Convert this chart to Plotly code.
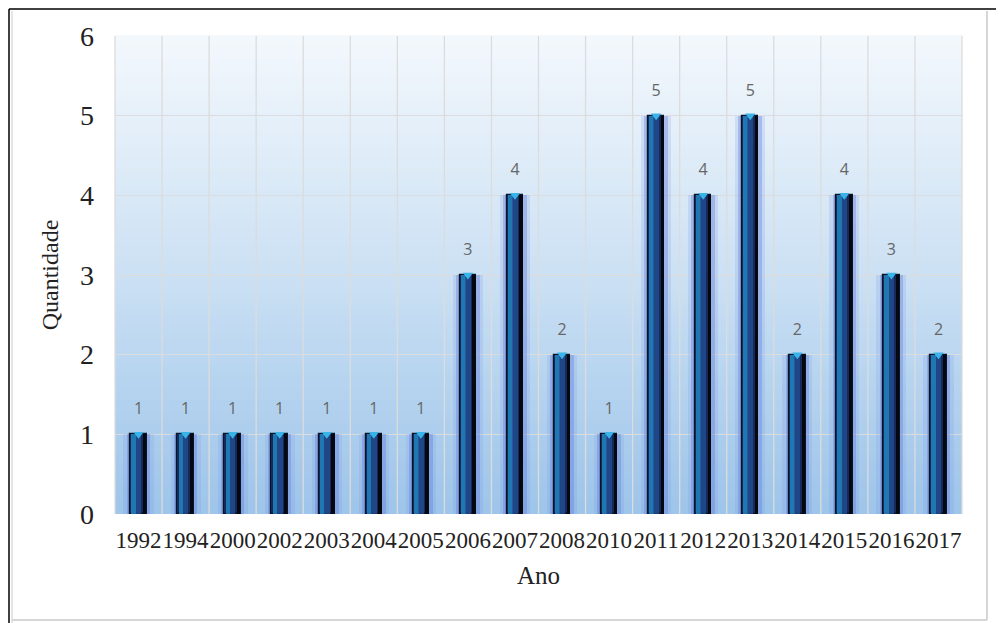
import plotly.graph_objects as go

anos = ["1992", "1994", "2000", "2002", "2003", "2004", "2005", "2006", "2007",
        "2008", "2010", "2011", "2012", "2013", "2014", "2015", "2016", "2017"]
quantidade = [1, 1, 1, 1, 1, 1, 1, 3, 4, 2, 1, 5, 4, 5, 2, 4, 3, 2]

W, H = 1004, 623
OFF = 8  # page body margin
L, R, T, B = 115, 962, 36, 514  # plot area in screen pixels
pw, ph = R - L, B - T

def px(x):
    return (x - L) / pw

def py(y):
    return (B - y) / ph

fig = go.Figure()

# glow halos
fig.add_trace(go.Bar(x=anos, y=quantidade, width=0.64, marker=dict(color="rgba(120,150,230,0.20)", line=dict(width=0)),
                     hoverinfo="skip", showlegend=False))
fig.add_trace(go.Bar(x=anos, y=quantidade, width=0.5, marker=dict(color="rgba(85,115,215,0.32)", line=dict(width=0)),
                     hoverinfo="skip", showlegend=False))
# main bar
fig.add_trace(go.Bar(x=anos, y=quantidade, width=0.35, marker=dict(color="#17295a", line=dict(color="#0a1328", width=1.2)),
                     hoverinfo="skip", showlegend=False))
# left cyan highlight
fig.add_trace(go.Bar(x=anos, y=quantidade, width=0.1, offset=-0.15,
                     marker=dict(color="rgba(35,140,200,0.8)", line=dict(width=0)),
                     hoverinfo="skip", showlegend=False))
# center blue
fig.add_trace(go.Bar(x=anos, y=quantidade, width=0.12, offset=-0.06,
                     marker=dict(color="rgba(35,80,150,0.75)", line=dict(width=0)),
                     hoverinfo="skip", showlegend=False))
# right dark edge
fig.add_trace(go.Bar(x=anos, y=quantidade, width=0.07, offset=0.095,
                     marker=dict(color="#05080f", line=dict(width=0)),
                     hoverinfo="skip", showlegend=False))
# top cyan tip
fig.add_trace(go.Scatter(x=anos, y=quantidade, mode="markers",
                         marker=dict(symbol="triangle-down", size=9, color="#3ab4e8", line=dict(width=0)),
                         hoverinfo="skip", showlegend=False, cliponaxis=False))
# labels
fig.add_trace(go.Scatter(x=anos, y=quantidade, mode="markers+text", text=[str(v) for v in quantidade],
                         textposition="top center",
                         textfont=dict(family="Open Sans, Lato, sans-serif", size=16, color="#666666"),
                         marker=dict(size=24, opacity=0),
                         hoverinfo="skip", showlegend=False, cliponaxis=False))

shapes = []
# gradient background
top = (243, 248, 253)
mid = (204, 225, 244)
bot = (158, 197, 234)
n = 80
for i in range(n):
    t = i / (n - 1)
    if t < 0.5:
        a, b, u = top, mid, t / 0.5
    else:
        a, b, u = mid, bot, (t - 0.5) / 0.5
    c = tuple(int(a[k] + (b[k] - a[k]) * u) for k in range(3))
    shapes.append(dict(type="rect", xref="x domain", yref="y domain",
                       x0=0, x1=1, y0=1 - (i + 1) / n, y1=1 - i / n + 0.002,
                       fillcolor="rgb(%d,%d,%d)" % c, line=dict(width=0), layer="below"))
# frame
shapes.append(dict(type="line", xref="paper", yref="paper", x0=px(9), x1=px(1004), y0=py(9), y1=py(9),
                   line=dict(color="black", width=1.5)))
shapes.append(dict(type="line", xref="paper", yref="paper", x0=px(9), x1=px(9), y0=py(9), y1=py(623),
                   line=dict(color="black", width=1.5)))
shapes.append(dict(type="line", xref="paper", yref="paper", x0=px(12), x1=px(12), y0=py(11), y1=py(623),
                   line=dict(color="#dddddd", width=1.5)))
shapes.append(dict(type="line", xref="paper", yref="paper", x0=px(987), x1=px(987), y0=py(11), y1=py(620),
                   line=dict(color="#d6d6d6", width=2)))
shapes.append(dict(type="line", xref="paper", yref="paper", x0=px(12), x1=px(987), y0=py(620), y1=py(620),
                   line=dict(color="#d6d6d6", width=2)))
# vertical category separators
for i in range(len(anos) + 1):
    shapes.append(dict(type="line", xref="x domain", yref="y domain", x0=i / len(anos), x1=i / len(anos),
                       y0=0, y1=1, line=dict(color="#dcdcdc", width=1.3), layer="below"))

fig.update_layout(
    width=W, height=H,
    margin=dict(l=L - OFF, r=W - (R - OFF), t=T - OFF, b=H - (B - OFF)),
    paper_bgcolor="white", plot_bgcolor="rgba(0,0,0,0)",
    barmode="overlay", bargap=0,
    shapes=shapes,
    font=dict(family="Liberation Serif, Times New Roman, serif", color="#222222"),
    xaxis=dict(type="category", tickfont=dict(size=23), tickangle=0, showgrid=False, showline=False, ticks="",
               ticklabelstandoff=10,
               title=dict(text="Ano", font=dict(size=25), standoff=14), range=[-0.5, len(anos) - 0.5]),
    yaxis=dict(range=[0, 6], dtick=1, tickfont=dict(size=28), showgrid=True, gridcolor="#dcdcdc", gridwidth=1.3,
               zeroline=False, showline=False, ticks="", layer="below traces", ticklabelstandoff=20,
               title=dict(text="Quantidade", font=dict(size=24), standoff=14)),
)

fig.write_html("out.html")
